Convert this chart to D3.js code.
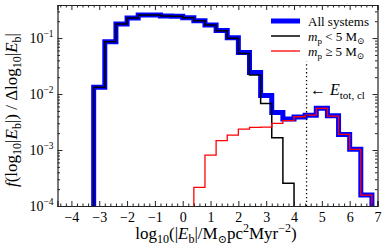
<!DOCTYPE html>
<html>
<head>
<meta charset="utf-8">
<script src="https://cdn.jsdelivr.net/npm/d3@7.9.0/dist/d3.min.js"></script>
<style>
  body { margin: 0; background: #fff; }
  svg { display: block; font-family: "Liberation Serif", "DejaVu Serif", serif; }
  .axis path, .axis line { stroke: #222; }
  .axis text { font-family: "Liberation Serif", "DejaVu Serif", serif; font-size: 14px; fill: #000; }
</style>
</head>
<body>
<svg id="chart" width="387" height="250"></svg>
<script>
// histogram bin edges (log10 |E_b|)
const binEdges = [-3.2, -2.8, -2.4, -2.0, -1.6, -1.2, -0.8, -0.4, 0.0, 0.4, 0.8, 1.2, 1.6,
                  2.0, 2.4, 2.8, 3.2, 3.6, 4.0, 4.4, 4.8, 5.2, 5.6, 6.0, 6.4, 6.8];

const allSystems = [0.0132, 0.086, 0.178, 0.228, 0.258, 0.258, 0.248, 0.246, 0.232, 0.204,
                    0.172, 0.136, 0.101, 0.055, 0.0243, 0.0094, 0.0047, 0.0036, 0.0039, 0.0042,
                    0.0056, 0.0041, 0.0019, 0.00103, 0.000157];
const lowMass = [0.0132, 0.086, 0.178, 0.228, 0.258, 0.258, 0.248, 0.246, 0.232, 0.204,
                 0.171, 0.135, 0.099, 0.053, 0.0218, 0.0068, 0.00166, 0.000254, 0, 0,
                 0, 0, 0, 0, 0];
const highMass = [0, 0, 0, 0, 0, 0, 0, 0, 0, 0.000216,
                  0.00081, 0.00147, 0.00185, 0.00237, 0.00254, 0.00257, 0.0030, 0.00334, 0.00393, 0.00422,
                  0.00556, 0.00405, 0.0019, 0.00103, 0.000157];

const eTotCl = 4.45;
const eTotTop = 0.038;

const xTicks = [-4, -3, -2, -1, 0, 1, 2, 3, 4, 5, 6, 7];
const yTicks = [1e-4, 1e-3, 1e-2, 1e-1];
const yTickExp = ["−4", "−3", "−2", "−1"];

const svg = d3.select('#chart');
const mLeft = 57.5, mRight = 377.5, mTop = 5, mBottom = 206;

const x = d3.scaleLinear().domain([-4.5, 7]).range([mLeft, mRight]);
const y = d3.scaleLog().domain([1e-4, 0.39]).range([mBottom, mTop]);

svg.append('defs').append('clipPath').attr('id', 'plotclip')
   .append('rect').attr('x', mLeft).attr('y', mTop)
   .attr('width', mRight - mLeft).attr('height', mBottom - mTop);

// step outline like a 'step' histogram
function stepPath(vals) {
    let first = vals.findIndex(v => v > 0);
    let last = vals.length - 1;
    while (vals[last] <= 0) last--;
    let low = mBottom + 10;
    let p = `M${x(binEdges[first])},${low}`;
    for (let i = first; i <= last; i++) {
        let v = vals[i] > 0 ? y(vals[i]) : low;
        p += `L${x(binEdges[i])},${v}L${x(binEdges[i + 1])},${v}`;
    }
    p += `L${x(binEdges[last + 1])},${low}`;
    return p;
}

const plot = svg.append('g').attr('clip-path', 'url(#plotclip)');

plot.append('path').attr('d', stepPath(allSystems))
    .attr('fill', 'none').attr('stroke', '#0000ff').attr('stroke-width', 5)
    .attr('stroke-linejoin', 'miter');
plot.append('path').attr('d', stepPath(lowMass))
    .attr('fill', 'none').attr('stroke', '#000').attr('stroke-width', 1.5);
plot.append('path').attr('d', stepPath(highMass))
    .attr('fill', 'none').attr('stroke', '#ff0000').attr('stroke-width', 1.3);

plot.append('line')
    .attr('x1', x(eTotCl)).attr('x2', x(eTotCl))
    .attr('y1', y(1e-4)).attr('y2', y(eTotTop))
    .attr('stroke', '#000').attr('stroke-width', 1.3)
    .attr('stroke-dasharray', '1.3,2.6');

// axes: ticks point inward on all four sides
const xMinor = d3.range(-4.4, 7.01, 0.2).filter(v => Math.abs(v - Math.round(v)) > 0.01);
const yMinor = [];
[1e-4, 1e-3, 1e-2, 1e-1].forEach(d => { for (let k = 2; k <= 9; k++) if (d * k < 0.39) yMinor.push(d * k); });

function addAxis(axisFn, scale, transform, majors, minors, label) {
    let g = svg.append('g').attr('class', 'axis').attr('transform', transform);
    g.call(axisFn(scale).tickValues(majors).tickSize(-5).tickPadding(6)
        .tickFormat(label ? d3.format('d') : ''));
    g.append('g').call(axisFn(scale).tickValues(minors).tickSize(-2.5).tickFormat(''))
     .select('.domain').remove();
    return g;
}

addAxis(d3.axisBottom, x, `translate(0,${mBottom})`, xTicks, xMinor, true);
addAxis(d3.axisTop, x, `translate(0,${mTop})`, xTicks, xMinor, false);
addAxis(d3.axisLeft, y, `translate(${mLeft},0)`, yTicks, yMinor, false);
addAxis(d3.axisRight, y, `translate(${mRight},0)`, yTicks, yMinor, false);

svg.selectAll('.axis .domain').attr('stroke', '#222').attr('stroke-width', 1.2);

// y tick labels 10^n
yTicks.forEach((t, i) => {
    let txt = svg.append('text').attr('x', mLeft - 4).attr('y', y(t) + 5)
        .attr('text-anchor', 'end').attr('font-size', 14);
    txt.append('tspan').text('10');
    txt.append('tspan').attr('dy', -6).attr('font-size', 9.5).text(yTickExp[i]);
});

// axis titles
const xl = svg.append('text').attr('x', 216).attr('y', 239)
    .attr('text-anchor', 'middle').attr('font-size', 17);
xl.append('tspan').text('log');
xl.append('tspan').attr('font-size', 12).attr('dy', 3.5).text('10');
xl.append('tspan').attr('dy', -3.5).text('(|');
xl.append('tspan').attr('font-style', 'italic').text('E');
xl.append('tspan').attr('font-size', 12).attr('dy', 3.5).text('b');
xl.append('tspan').attr('dy', -3.5).text('|/M');
xl.append('tspan').attr('font-size', 11).attr('dy', 3.5).text('⊙');
xl.append('tspan').attr('dy', -3.5).text('pc');
xl.append('tspan').attr('font-size', 12).attr('dy', -7).text('2');
xl.append('tspan').attr('dy', 7).text('Myr');
xl.append('tspan').attr('font-size', 12).attr('dy', -7).text('−2');
xl.append('tspan').attr('dy', 7).text(')');

const yl = svg.append('text').attr('transform', 'translate(17,110) rotate(-90)')
    .attr('text-anchor', 'middle').attr('font-size', 17);
yl.append('tspan').attr('font-style', 'italic').text('f');
yl.append('tspan').text('(log');
yl.append('tspan').attr('font-size', 12).attr('dy', 3.5).text('10');
yl.append('tspan').attr('dy', -3.5).text('|');
yl.append('tspan').attr('font-style', 'italic').text('E');
yl.append('tspan').attr('font-size', 12).attr('dy', 3.5).text('b');
yl.append('tspan').attr('dy', -3.5).text('|) / Δlog');
yl.append('tspan').attr('font-size', 12).attr('dy', 3.5).text('10');
yl.append('tspan').attr('dy', -3.5).text('|');
yl.append('tspan').attr('font-style', 'italic').text('E');
yl.append('tspan').attr('font-size', 12).attr('dy', 3.5).text('b');
yl.append('tspan').attr('dy', -3.5).text('|');

// E_tot,cl marker label
const el = svg.append('text').attr('x', 310).attr('y', 95).attr('font-size', 16);
el.append('tspan').text('← ');
el.append('tspan').attr('font-style', 'italic').text('E');
el.append('tspan').attr('font-size', 11).attr('dy', 3.5).text('tot, cl');

// legend
const legendRows = [
    { y: 21, color: '#0000ff', width: 5, kind: 'all' },
    { y: 36, color: '#000', width: 1.5, kind: 'low' },
    { y: 51, color: '#ff0000', width: 1.3, kind: 'high' }
];
legendRows.forEach(r => {
    svg.append('line').attr('x1', 271).attr('x2', 300).attr('y1', r.y).attr('y2', r.y)
       .attr('stroke', r.color).attr('stroke-width', r.width);
    let t = svg.append('text').attr('x', 308).attr('y', r.y + 4.5).attr('font-size', 13);
    if (r.kind === 'all') {
        t.text('All systems');
    } else {
        t.append('tspan').attr('font-style', 'italic').text('m');
        t.append('tspan').attr('font-size', 9).attr('dy', 3).text('p');
        t.append('tspan').attr('dy', -3).text(r.kind === 'low' ? ' < 5 M' : ' ≥ 5 M');
        t.append('tspan').attr('font-size', 9).attr('dy', 3).text('⊙');
    }
});
</script>
</body>
</html>
